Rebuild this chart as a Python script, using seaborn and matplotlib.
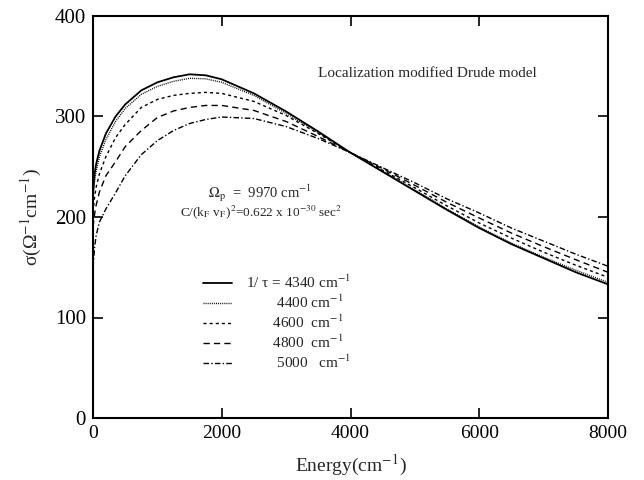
import matplotlib
matplotlib.use("Agg")
import matplotlib.pyplot as plt
import seaborn as sns
import pandas as pd

# ---- data ----
energy = [0, 25, 50, 100, 200, 350, 500, 750, 1000, 1250, 1500, 1750, 2000,
          2500, 3000, 3500, 4000, 4500, 5000, 5500, 6000, 6500, 7000, 7500, 8000]

sigma_4340 = [225, 243, 253, 266, 283, 300, 312, 326, 334, 339, 342, 341, 337,
              323, 305, 285, 264, 245, 226, 207, 189, 173, 159, 145, 133]
sigma_4400 = [218, 236, 246, 260, 277, 295, 308, 322, 330, 335, 338, 337.5, 334,
              321, 303, 284, 264, 245.5, 227, 208, 190, 174, 160, 147, 135]
sigma_4600 = [205, 220, 230, 243, 260, 279, 292, 309, 317, 321, 323, 324, 323,
              315, 301, 283, 264, 246.5, 229, 211, 194, 179, 165, 152, 140]
sigma_4800 = [190, 203, 212, 225, 241, 255, 270, 286, 299, 305.5, 309, 311, 311,
              306, 295, 280, 264, 248, 231.5, 214.5, 199, 184, 170.5, 157.5, 145]
sigma_5000 = [150, 170, 182, 195, 208, 224, 241, 262, 276, 286, 293, 297, 299.5,
              298, 290, 278, 264, 249, 234, 218, 204, 189, 176, 163, 151]

series_labels = [r"1/ τ = 4340 cm$^{-1}$",
                 r"        4400 cm$^{-1}$",
                 r"       4600  cm$^{-1}$",
                 r"       4800  cm$^{-1}$",
                 r"        5000   cm$^{-1}$"]
series_values = [sigma_4340, sigma_4400, sigma_4600, sigma_4800, sigma_5000]

x_ticks = [0, 2000, 4000, 6000, 8000]
y_ticks = [0, 100, 200, 300, 400]

# ---- style ----
sns.set_theme(style="ticks")
plt.rcParams["font.family"] = ["Liberation Serif", "DejaVu Serif"]
plt.rcParams["mathtext.fontset"] = "stix"
plt.rcParams["lines.scale_dashes"] = False

dash_styles = ["-", (0, (0.7, 0.8)), (0, (2.2, 2.2)), (0, (4.5, 3.0)),
               (0, (4.0, 1.6, 1.0, 1.6))]
line_widths = [1.3, 1.0, 1.0, 1.0, 1.0]

fig = plt.figure(figsize=(6.44, 4.8), dpi=100)
ax = fig.add_axes([93 / 644, 1 - 418 / 480, 515 / 644, 402 / 480])

handles = []
for vals, lab, ls, lw in zip(series_values, series_labels, dash_styles, line_widths):
    df = pd.DataFrame({"Energy": energy, "sigma": vals})
    sns.lineplot(data=df, x="Energy", y="sigma", ax=ax, color="black",
                 linewidth=lw, legend=False)
    line = ax.lines[-1]
    line.set_linestyle(ls)
    line.set_label(lab)
    handles.append(line)

ax.set_xlim(0, 8000)
ax.set_ylim(0, 400)
ax.set_xticks(x_ticks)
ax.set_yticks(y_ticks)
ax.tick_params(direction="in", length=7, width=1.2, top=True, right=True,
               labelsize=14, colors="black", pad=5)
ax.tick_params(axis="y", labelsize=15)
for s in ax.spines.values():
    s.set_linewidth(1.5)
    s.set_color("black")

ax.set_xlabel(r"Energy(cm$^{-1}$)", fontsize=14, labelpad=8)
ax.set_ylabel(r"σ(Ω$^{-1}$cm$^{-1}$)", fontsize=14, labelpad=8)

leg = ax.legend(handles=handles, loc="upper left",
                bbox_to_anchor=((203 - 93) / 515, (418 - 274) / 402),
                frameon=False, fontsize=11, handlelength=1.9,
                handletextpad=0.9, labelspacing=0.18, borderpad=0,
                borderaxespad=0)

ax.text(5200, 343, "Localization modified Drude model",
        fontsize=11, ha="center", va="center")
ax.text(2600, 224, r"$\Omega_\mathrm{p}$  =  9970 cm$^{-1}$", fontsize=10.5,
        ha="center", va="center")
ax.text(2610, 205, r"C/(k$_\mathrm{F}$ v$_\mathrm{F}$)$^2$=0.622 x 10$^{-30}$ sec$^2$",
        fontsize=9.5, ha="center", va="center")

fig.savefig("out.png", dpi=100, facecolor="white")
